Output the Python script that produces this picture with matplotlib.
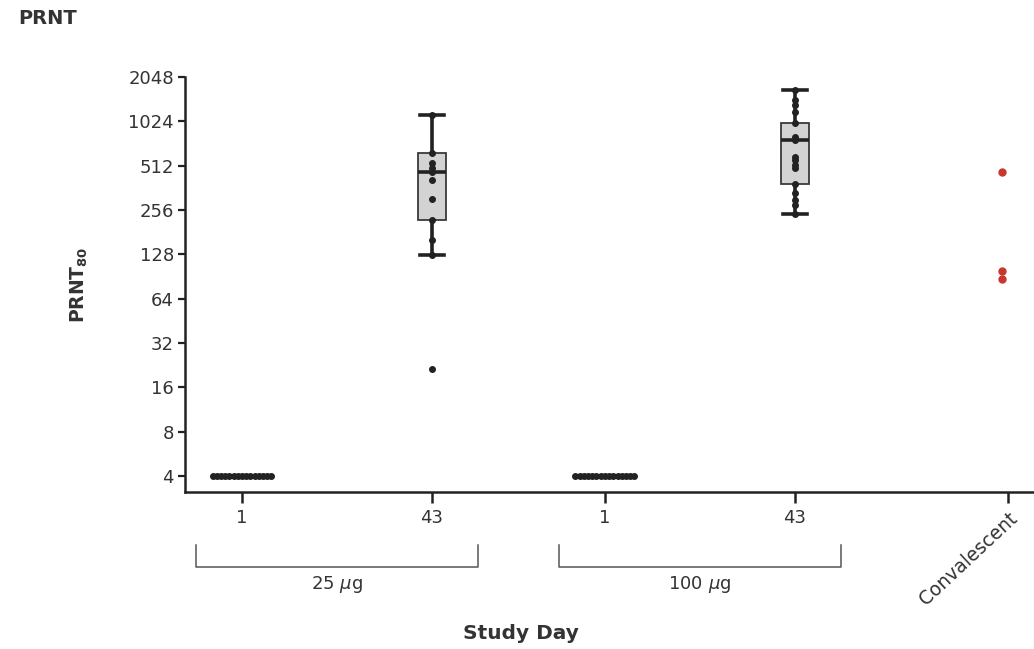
import matplotlib
matplotlib.use("Agg")
import matplotlib.pyplot as plt
import matplotlib.transforms as mtransforms

plt.rcParams['font.family'] = ['DejaVu Sans']
plt.rcParams['mathtext.fontset'] = 'dejavusans'

# ---- data ----
tick_labels = ["1", "43", "1", "43", "Convalescent"]
group_labels = ["25 $\\mu$g", "100 $\\mu$g"]
yticks = [4, 8, 16, 32, 64, 128, 256, 512, 1024, 2048]

day1_25 = [4, 4, 4, 4, 4, 4, 4, 4, 4, 4, 4, 4, 4, 4, 4]
day1_100 = [4, 4, 4, 4, 4, 4, 4, 4, 4, 4, 4, 4, 4, 4, 4]
day43_25 = [1130, 625, 533, 494, 465, 410, 304, 219, 160, 127, 21.3]
day43_100 = [1674, 1428, 1324, 1185, 998, 803, 765, 588, 560, 518, 494, 385, 334, 300, 277, 240]
convalescent = [465, 98.6, 86.9]

# box statistics: whislo, q1, med, q3, whishi
box25 = dict(whislo=127, q1=219, med=465, q3=625, whishi=1130)
box100 = dict(whislo=240, q1=385, med=765, q3=998, whishi=1674)

# ---- layout ----
positions = [1.0, 2.0, 2.91, 3.91, 5.03]
fig = plt.figure(figsize=(10.34, 6.49), dpi=100)
ax = fig.add_axes([185 / 1034, 1 - 492 / 649, 1 - 185 / 1034, (492 - 77) / 649])
ax.set_yscale('log', base=2)
ax.set_ylim(3.11, 2048)
ax.set_xlim(0.7, 0.7 + 849 / 190)

dark = '#222222'
txt = '#333333'

# boxes
stats = []
for b in (box25, box100):
    d = dict(b)
    d['fliers'] = []
    stats.append(d)
ax.bxp(stats, positions=[positions[1], positions[3]], widths=0.145,
       patch_artist=True, showfliers=False,
       boxprops=dict(facecolor='#d3d3d3', edgecolor='#3a3a3a', linewidth=1.3),
       medianprops=dict(color=dark, linewidth=2.6),
       whiskerprops=dict(color=dark, linewidth=2.6),
       capprops=dict(color=dark, linewidth=2.6),
       capwidths=0.125, zorder=2)

# day 1 strips (all at lower limit)
n1 = len(day1_25)
offs = [(-0.155 + 0.31 * i / (n1 - 1)) for i in range(n1)]
ax.plot([positions[0] + o for o in offs], day1_25, 'o', color=dark, ms=4.0, zorder=3, clip_on=False)
ax.plot([positions[2] + o for o in offs[:len(day1_100)]], day1_100, 'o', color=dark, ms=4.0, zorder=3, clip_on=False)

# day 43 points
ax.plot([positions[1]] * len(day43_25), day43_25, 'o', color=dark, ms=4.0, zorder=3)
ax.plot([positions[3]] * len(day43_100), day43_100, 'o', color=dark, ms=4.0, zorder=3)
ax.plot([positions[4] - 0.03] * len(convalescent), convalescent, 'o', color='#c8372d', ms=5, zorder=3)

# axes styling
for s in ('top', 'right'):
    ax.spines[s].set_visible(False)
for s in ('left', 'bottom'):
    ax.spines[s].set_color(dark)
    ax.spines[s].set_linewidth(1.8)
ax.set_yticks(yticks)
ax.set_yticklabels([str(v) for v in yticks])
ax.yaxis.set_minor_locator(matplotlib.ticker.NullLocator())
ax.tick_params(axis='y', direction='out', length=5, width=1.6, color=dark,
               labelsize=13, labelcolor=txt, pad=3)
ax.set_xticks(positions)
ax.set_xticklabels(tick_labels)
ax.tick_params(axis='x', direction='out', length=8, width=1.8, color=dark,
               labelsize=13, labelcolor=txt, pad=4)
lbls = ax.get_xticklabels()
lbls[-1].set_rotation(43)
lbls[-1].set_ha('right')
lbls[-1].set_va('top')
lbls[-1].set_rotation_mode('anchor')
lbls[-1].set_fontsize(13.5)

ax.set_ylabel('PRNT$_{\\mathbf{80}}$', fontsize=13.5, fontweight='bold', color=txt)
ax.yaxis.set_label_coords(-0.112, 0.5)

# group brackets
trans = mtransforms.blended_transform_factory(ax.transData, ax.transAxes)
for c, lab in zip([positions[0], positions[2]], group_labels):
    ctr = c + 0.5
    x0, x1 = c - 0.24, c + 1.24
    ax.plot([x0, x0, x1, x1], [-0.128, -0.181, -0.181, -0.128], color='#555555',
            lw=1.1, transform=trans, clip_on=False)
    ax.text(ctr, -0.224, lab, transform=trans, ha='center', va='center',
            fontsize=13, color=txt)

ax.text(2.47, -0.342, 'Study Day', transform=trans, ha='center', va='center',
        fontsize=14.5, fontweight='bold', color=txt)
fig.text(18 / 1034, 1 - 19 / 649, 'PRNT', ha='left', va='center',
         fontsize=14, fontweight='bold', color=txt)

fig.savefig('out.png', dpi=100)
